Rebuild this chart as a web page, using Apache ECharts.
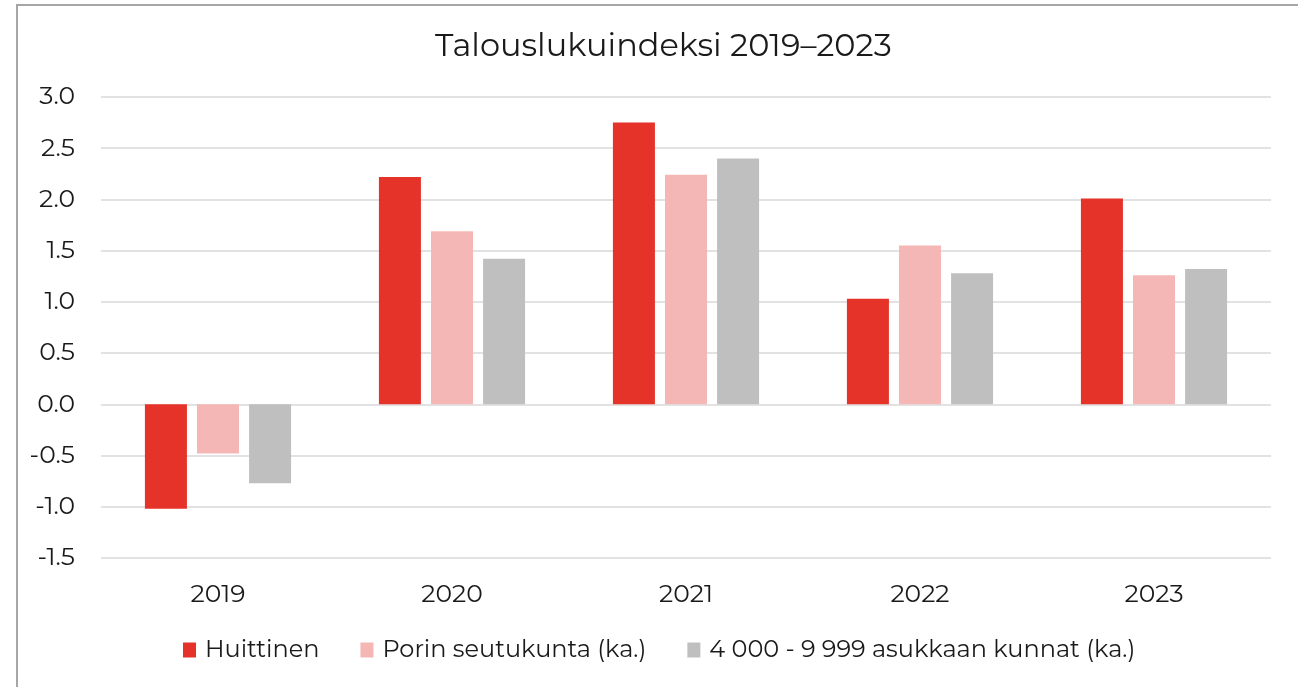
<!DOCTYPE html>
<html>
<head>
<meta charset="utf-8">
<script src="https://cdn.jsdelivr.net/npm/echarts@6/dist/echarts.min.js"></script>
<style>
  html, body { margin: 0; padding: 0; background: #fff; }
  #chart { width: 1298px; height: 687px; }
</style>
</head>
<body>
<div id="chart"></div>
<script>
var years = ["2019", "2020", "2021", "2022", "2023"];
var huittinen = [-1.02, 2.22, 2.75, 1.03, 2.01];
var pori = [-0.48, 1.69, 2.24, 1.55, 1.26];
var kunnat = [-0.77, 1.42, 2.40, 1.28, 1.32];

var font = "Montserrat, 'Open Sans', sans-serif";
var myChart = echarts.init(document.getElementById("chart"));
myChart.setOption({
  animation: false,
  textStyle: { fontFamily: font },
  // outer frame, left and top edges visible
  graphic: [{
    type: "rect",
    shape: { x: 17, y: 5, width: 1400, height: 800 },
    style: { fill: "none", stroke: "#a6a6a6", lineWidth: 2 }
  }],
  title: {
    text: "Talouslukuindeksi 2019–2023",
    left: 430,
    top: 26,
    textStyle: { fontFamily: font, fontSize: 32, fontWeight: "normal", color: "#1a1a1a" }
  },
  legend: {
    bottom: 20,
    left: 178,
    itemWidth: 13,
    itemHeight: 15,
    itemGap: 41,
    icon: "rect",
    textStyle: { fontFamily: font, fontSize: 24, color: "#1a1a1a", padding: [0, 0, 0, 4] },
    data: ["Huittinen", "Porin seutukunta (ka.)", "4 000 - 9 999 asukkaan kunnat (ka.)"]
  },
  grid: { left: 101, right: 27, top: 97, bottom: 129, containLabel: false },
  xAxis: {
    type: "category",
    data: years,
    position: "bottom",
    axisLine: { show: false },
    axisTick: { show: false },
    axisLabel: { fontFamily: font, fontSize: 25, color: "#1a1a1a", margin: 24 }
  },
  yAxis: {
    type: "value",
    min: -1.5,
    max: 3,
    interval: 0.5,
    axisLine: { show: false },
    axisTick: { show: false },
    axisLabel: {
      fontFamily: font, fontSize: 25, color: "#1a1a1a", margin: 26,
      formatter: function (v) { return v.toFixed(1); }
    },
    splitLine: { lineStyle: { color: "#d9d9d9", width: 1.5 } }
  },
  series: [
    { name: "Huittinen", type: "bar", data: huittinen, barWidth: 42, barGap: "24%",
      itemStyle: { color: "#e6332a" } },
    { name: "Porin seutukunta (ka.)", type: "bar", data: pori, barWidth: 42, barGap: "24%",
      itemStyle: { color: "#f5b7b5" } },
    { name: "4 000 - 9 999 asukkaan kunnat (ka.)", type: "bar", data: kunnat, barWidth: 42, barGap: "24%",
      itemStyle: { color: "#bfbfbf" } }
  ]
});
</script>
</body>
</html>
